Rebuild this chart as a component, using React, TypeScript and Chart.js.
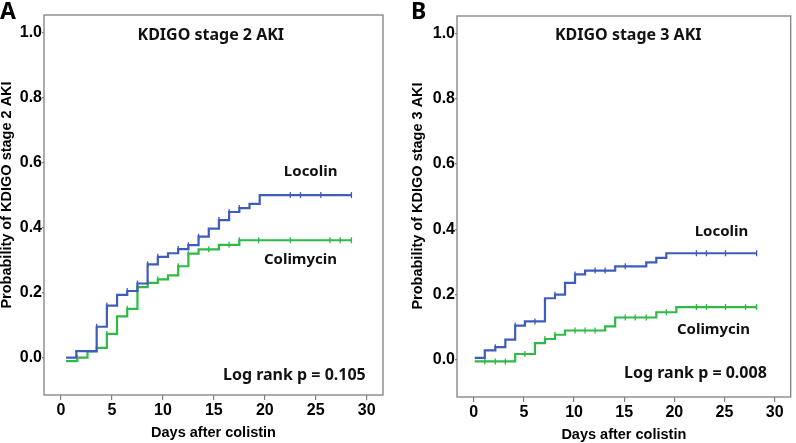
import React, { useEffect, useRef } from 'react';
import { Chart, registerables } from 'chart.js';

Chart.register(...registerables);

// ---------- shared axes ----------
const xTickValues = [0, 5, 10, 15, 20, 25, 30];
const yTickValues = [0, 0.2, 0.4, 0.6, 0.8, 1.0];
const xTitle = 'Days after colistin';

// ---------- Panel A : KDIGO stage 2 AKI ----------
const aTitle = 'KDIGO stage 2 AKI';
const aYTitle = 'Probability of KDIGO stage 2 AKI';
const aPText = 'Log rank p = 0.105';
const aLocolinTimes = [0.5, 1.5, 3.5, 4.5, 5.5, 6.5, 7.5, 8.5, 9.5, 10.5, 11.5, 12.5, 13.5, 14.5, 15.5, 16.5, 17.5, 18.5, 19.5];
const aLocolinValues = [0.0, 0.02, 0.095, 0.16, 0.193, 0.205, 0.228, 0.287, 0.31, 0.321, 0.334, 0.346, 0.372, 0.397, 0.423, 0.448, 0.46, 0.473, 0.5];
const aLocolinEnd = 28.5;
const aLocolinCensor = [3.5, 4.5, 6.5, 7.5, 8.5, 9.5, 11.5, 12.5, 13.5, 15.5, 16.5, 17.5, 22.5, 23.5, 25.5, 28.5];
const aColimycinTimes = [0.5, 1.6, 2.6, 3.5, 4.5, 5.5, 6.5, 7.5, 8.5, 9.5, 10.5, 11.5, 12.5, 13.5, 15.5, 17.5];
const aColimycinValues = [-0.011, 0.0, 0.019, 0.03, 0.073, 0.127, 0.15, 0.217, 0.23, 0.241, 0.253, 0.281, 0.32, 0.333, 0.347, 0.361];
const aColimycinEnd = 28.5;
const aColimycinCensor = [1.6, 4.5, 6.5, 8.5, 9.5, 11.5, 12.5, 14.5, 16.5, 17.5, 19.4, 22.5, 26.4, 27.4, 28.5];

// ---------- Panel B : KDIGO stage 3 AKI ----------
const bTitle = 'KDIGO stage 3 AKI';
const bYTitle = 'Probability of KDIGO stage 3 AKI';
const bPText = 'Log rank p = 0.008';
const bLocolinTimes = [0.1, 1.1, 2.15, 3.15, 4.13, 5.1, 7.1, 8.1, 9.1, 10.1, 11.1, 14.1, 17.2, 18.2, 19.2];
const bLocolinValues = [0.005, 0.028, 0.038, 0.061, 0.104, 0.117, 0.188, 0.199, 0.235, 0.261, 0.273, 0.286, 0.298, 0.312, 0.326];
const bLocolinEnd = 28.2;
const bLocolinCensor = [2.15, 4.13, 6.1, 8.1, 10.1, 12.1, 13.1, 15.1, 22.2, 23.2, 25.1, 28.2];
const bColimycinTimes = [0.1, 4.13, 6.1, 7.1, 8.1, 9.1, 13.1, 14.1, 18.2, 20.2];
const bColimycinValues = [-0.006, 0.017, 0.05, 0.063, 0.076, 0.089, 0.102, 0.129, 0.145, 0.161];
const bColimycinEnd = 28.2;
const bColimycinCensor = [1.1, 2.15, 3.15, 5.1, 7.1, 8.1, 10.1, 11.1, 12.1, 15.1, 16.1, 17.2, 19.2, 22.2, 23.2, 25.1, 27.1, 28.2];

const BLUE = '#3f5cba';
const GREEN = '#2fba47';
const FRAME = '#808080';

const TICK_FONT = { family: 'Arial, "Liberation Sans", sans-serif', size: 16, weight: 'bold' as const };
const ANN_FONT = 'bold 15px "Noto Sans", "Open Sans", sans-serif';
const ANN_FONT_BIG = 'bold 16px "Noto Sans", "Open Sans", sans-serif';
const AXIS_TITLE_FONT = 'bold 14.5px Arial, "Liberation Sans", sans-serif';

function stepPoints(times: number[], values: number[], end: number) {
  const pts = times.map((t, i) => ({ x: t, y: values[i] }));
  pts.push({ x: end, y: values[values.length - 1] });
  return pts;
}
function valueAt(times: number[], values: number[], t: number) {
  let v = values[0];
  for (let i = 0; i < times.length; i++) if (times[i] <= t + 1e-9) v = values[i];
  return v;
}
function censorPoints(times: number[], values: number[], cens: number[]) {
  return cens.map((c) => ({ x: c, y: valueAt(times, values, c) }));
}

type Ann = { text: string; x: number; y: number; font: string };

type PanelDef = {
  letter: string;
  yTitle: string;
  loc: { times: number[]; values: number[]; end: number; censor: number[] };
  col: { times: number[]; values: number[]; end: number; censor: number[] };
  anns: Ann[];
  yAxisWidth: number;
  xAxisHeight: number;
  padTop: number;
  padRight: number;
  yTitleX: number;
  yTitleY: number;
  xTitleY: number;
  letterX: number;
  letterY: number;
};

const panelA: PanelDef = {
  letter: 'A',
  yTitle: aYTitle,
  loc: { times: aLocolinTimes, values: aLocolinValues, end: aLocolinEnd, censor: aLocolinCensor },
  col: { times: aColimycinTimes, values: aColimycinValues, end: aColimycinEnd, censor: aColimycinCensor },
  anns: [
    { text: aTitle, x: 14.7, y: 0.991, font: ANN_FONT_BIG },
    { text: 'Locolin', x: 24.5, y: 0.572, font: ANN_FONT },
    { text: 'Colimycin', x: 23.5, y: 0.30, font: ANN_FONT },
    { text: aPText, x: 22.9, y: -0.055, font: ANN_FONT_BIG },
  ],
  yAxisWidth: 44,
  xAxisHeight: 48,
  padTop: 15,
  padRight: 13,
  yTitleX: 7,
  yTitleY: 195,
  xTitleY: 433,
  letterX: 0,
  letterY: 12,
};

const panelB: PanelDef = {
  letter: 'B',
  yTitle: bYTitle,
  loc: { times: bLocolinTimes, values: bLocolinValues, end: bLocolinEnd, censor: bLocolinCensor },
  col: { times: bColimycinTimes, values: bColimycinValues, end: bColimycinEnd, censor: bColimycinCensor },
  anns: [
    { text: bTitle, x: 15.4, y: 0.994, font: ANN_FONT_BIG },
    { text: 'Locolin', x: 24.7, y: 0.393, font: ANN_FONT },
    { text: 'Colimycin', x: 23.9, y: 0.092, font: ANN_FONT },
    { text: bPText, x: 22.1, y: -0.042, font: ANN_FONT_BIG },
  ],
  yAxisWidth: 61,
  xAxisHeight: 46,
  padTop: 16,
  padRight: 1,
  yTitleX: 22,
  yTitleY: 196,
  xTitleY: 435,
  letterX: 15,
  letterY: 12,
};

function makeChart(canvas: HTMLCanvasElement, p: PanelDef) {
  const decorPlugin = {
    id: 'decor' + p.letter,
    beforeDatasetsDraw(chart: any) {
      const { ctx, chartArea } = chart;
      ctx.save();
      ctx.strokeStyle = FRAME;
      ctx.lineWidth = 1.3;
      ctx.strokeRect(chartArea.left, chartArea.top, chartArea.right - chartArea.left, chartArea.bottom - chartArea.top);
      ctx.restore();
    },
    afterDraw(chart: any) {
      const { ctx, chartArea, scales } = chart;
      ctx.save();
      ctx.fillStyle = '#111';
      ctx.textAlign = 'center';
      ctx.textBaseline = 'middle';
      for (const a of p.anns) {
        ctx.font = a.font;
        ctx.fillText(a.text, scales.x.getPixelForValue(a.x), scales.y.getPixelForValue(a.y));
      }
      ctx.fillStyle = '#000';
      ctx.font = AXIS_TITLE_FONT;
      ctx.fillText(xTitle, (chartArea.left + chartArea.right) / 2, p.xTitleY);
      ctx.save();
      ctx.translate(p.yTitleX, p.yTitleY);
      ctx.rotate(-Math.PI / 2);
      ctx.fillText(p.yTitle, 0, 0);
      ctx.restore();
      ctx.font = 'bold 23px "Noto Sans", "Open Sans", sans-serif';
      ctx.textAlign = 'left';
      ctx.fillText(p.letter, p.letterX, p.letterY);
      ctx.restore();
    },
  };

  const lineDs = (label: string, s: any, color: string) => ({
    type: 'line' as const,
    label,
    data: stepPoints(s.times, s.values, s.end),
    borderColor: color,
    borderWidth: 2.2,
    stepped: 'before' as const,
    pointRadius: 0,
    fill: false,
  });
  const censDs = (label: string, s: any, color: string) => ({
    type: 'scatter' as const,
    label,
    data: censorPoints(s.times, s.values, s.censor),
    pointStyle: 'line' as const,
    rotation: 90,
    pointRadius: 3,
    borderColor: color,
    backgroundColor: color,
    borderWidth: 1.3,
    showLine: false,
  });

  return new Chart(canvas, {
    type: 'line',
    data: {
      datasets: [
        lineDs('Locolin', p.loc, BLUE),
        lineDs('Colimycin', p.col, GREEN),
        censDs('Locolin censored', p.loc, BLUE),
        censDs('Colimycin censored', p.col, GREEN),
      ] as any,
    },
    options: {
      animation: false,
      responsive: false,
      maintainAspectRatio: false,
      layout: { padding: { top: p.padTop, right: p.padRight, left: 0, bottom: 0 } },
      plugins: { legend: { display: false }, tooltip: { enabled: false } },
      scales: {
        x: {
          type: 'linear',
          min: -1.67,
          max: 31.6,
          afterBuildTicks: (s: any) => {
            s.ticks = xTickValues.map((v) => ({ value: v }));
          },
          afterFit: (s: any) => {
            s.height = p.xAxisHeight;
          },
          grid: { display: true, drawOnChartArea: false, drawTicks: true, tickLength: 5, color: FRAME, lineWidth: 1.2 },
          border: { display: false },
          ticks: { font: TICK_FONT, color: '#000', padding: 1, maxRotation: 0, autoSkip: false, callback: (v: any) => String(v) },
        },
        y: {
          type: 'linear',
          min: -0.115,
          max: 1.054,
          afterBuildTicks: (s: any) => {
            s.ticks = yTickValues.map((v) => ({ value: v }));
          },
          afterFit: (s: any) => {
            s.width = p.yAxisWidth;
          },
          grid: { display: true, drawOnChartArea: false, drawTicks: true, tickLength: 2, color: FRAME, lineWidth: 1.2 },
          border: { display: false },
          ticks: { font: TICK_FONT, color: '#000', padding: 0, autoSkip: false, callback: (v: any) => Number(v).toFixed(1) },
        },
      },
    } as any,
    plugins: [decorPlugin],
  });
}

function Panel({ def, left, width }: { def: PanelDef; left: number; width: number }) {
  const ref = useRef<HTMLCanvasElement | null>(null);
  useEffect(() => {
    if (!ref.current) return;
    const chart = makeChart(ref.current, def);
    return () => chart.destroy();
  }, [def]);
  return (
    <canvas
      ref={ref}
      width={width}
      height={443}
      style={{ position: 'absolute', left, top: 0, width, height: 443, display: 'block' }}
    />
  );
}

export default function App() {
  return (
    <div style={{ position: 'fixed', left: 0, top: 0, width: 796, height: 443, background: '#fff', overflow: 'hidden' }}>
      <Panel def={panelA} left={0} width={396} />
      <Panel def={panelB} left={396} width={400} />
    </div>
  );
}
